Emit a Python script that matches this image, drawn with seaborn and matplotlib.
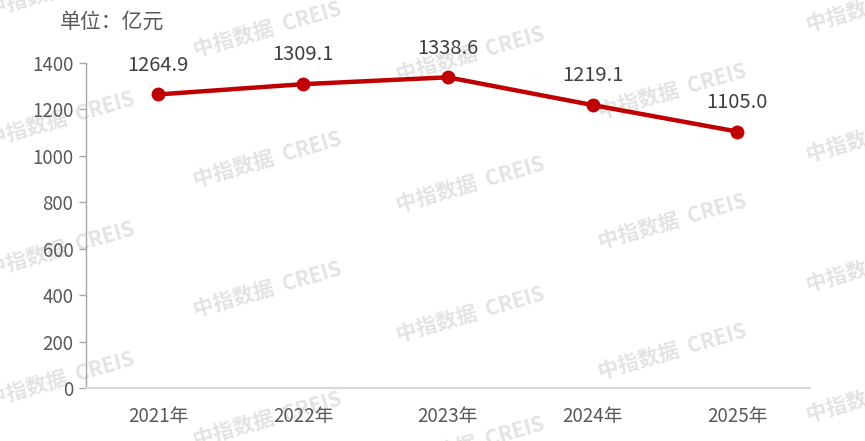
import pandas as pd
import matplotlib
matplotlib.use("Agg")
import matplotlib.pyplot as plt
import seaborn as sns

# 数据
years = ["2021年", "2022年", "2023年", "2024年", "2025年"]
values = [1264.9, 1309.1, 1338.6, 1219.1, 1105.0]
labels = ["1264.9", "1309.1", "1338.6", "1219.1", "1105.0"]
yticks = [0, 200, 400, 600, 800, 1000, 1200, 1400]

df = pd.DataFrame({"year": years, "value": values})

sns.set_theme(style="white")
plt.rcParams["font.family"] = ["Noto Sans CJK SC", "DejaVu Sans"]

fig = plt.figure(figsize=(8.65, 4.41), dpi=100)
ax = fig.add_axes([0.0994, 0.120, 0.8366, 0.737])
ax.set_zorder(1)

# 水印
wm_x = [60, 267, 470, 672, 880]
wm_y0 = [-10, 30, 55, 92, 5]
for x, y0 in zip(wm_x, wm_y0):
    for k in range(5):
        y = y0 + 130 * k
        fig.text(x / 865, 1 - y / 441, "中指数据  CREIS", rotation=16,
                 ha="center", va="center", fontsize=15, fontweight="bold",
                 color="#E3E3E3", zorder=0)

sns.lineplot(data=df, x="year", y="value", ax=ax, color="#C00000",
             linewidth=3.2, marker="o", markersize=10, markeredgewidth=0,
             sort=False, zorder=3)

for i, (v, t) in enumerate(zip(values, labels)):
    ax.annotate(t, (i, v), xytext=(0, 21), textcoords="offset points",
                ha="center", va="center", fontsize=14.5, color="#404040",
                annotation_clip=False)

ax.set_xlim(-0.5, 4.5)
ax.set_ylim(0, 1400)
ax.set_yticks(yticks)
ax.set_xlabel("")
ax.set_ylabel("")
ax.patch.set_alpha(0)

for s in ["top", "right"]:
    ax.spines[s].set_visible(False)
ax.spines["left"].set_color("#A6A6A6")
ax.spines["left"].set_linewidth(1.0)
ax.spines["bottom"].set_color("#D9D9D9")
ax.spines["bottom"].set_linewidth(1.5)

ax.tick_params(axis="y", left=True, length=5, width=1, color="#A6A6A6",
               labelsize=13.5, labelcolor="#595959", pad=4)
ax.tick_params(axis="x", bottom=False, labelsize=13.5, labelcolor="#595959", pad=7)

fig.text(60 / 865, 1 - 22 / 441, "单位：亿元", fontsize=15, color="#595959",
         ha="left", va="center")

fig.savefig("out.png", dpi=100)
